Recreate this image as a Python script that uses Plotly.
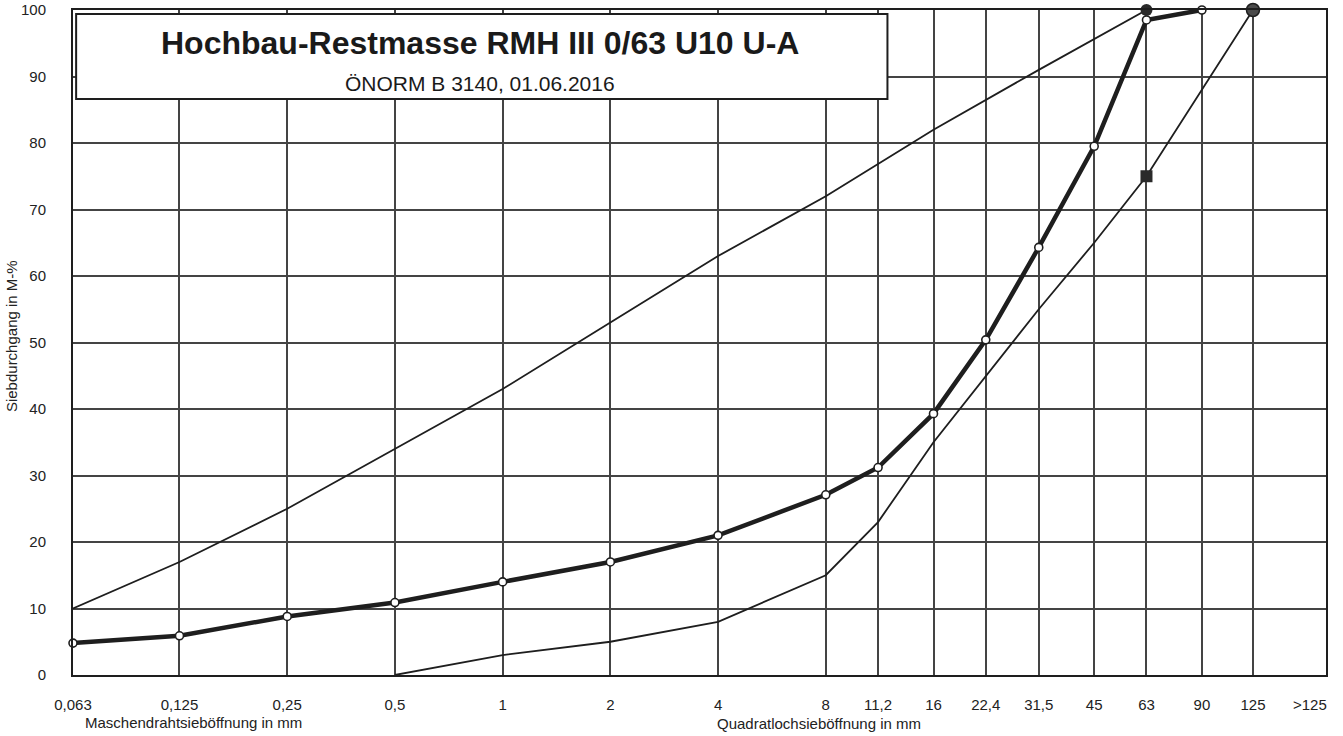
import math
import plotly.graph_objects as go

# ---- data ----
sieves = [0.063, 0.125, 0.25, 0.5, 1, 2, 4, 8, 11.2, 16, 22.4, 31.5, 45, 63, 90, 125]
sieve_labels = ["0,063", "0,125", "0,25", "0,5", "1", "2", "4", "8", "11,2", "16",
                "22,4", "31,5", "45", "63", "90", "125"]
extra_label = ">125"
extra_label_pos = 180

sample_x = [0.063, 0.125, 0.25, 0.5, 1, 2, 4, 8, 11.2, 16, 22.4, 31.5, 45, 63, 90]
sample_y = [4.8, 5.9, 8.8, 10.9, 14.0, 17.0, 21.0, 27.1, 31.2, 39.3, 50.4, 64.3, 79.5, 98.5, 100]

upper_x = [0.063, 0.125, 0.25, 0.5, 1, 2, 4, 8, 16, 31.5, 63]
upper_y = [10, 17, 25, 34, 43, 53, 63, 72, 82, 91, 100]

lower_x = [0.5, 1, 2, 4, 8, 11.2, 16, 22.4, 31.5, 45, 63, 125]
lower_y = [0, 3, 5, 8, 15, 23, 35, 45, 55, 65, 75, 100]

title_text = "Hochbau-Restmasse RMH III 0/63 U10 U-A"
subtitle_text = "ÖNORM B 3140, 01.06.2016"
ytitle = "Siebdurchgang in M-%"
xlabel_left = "Maschendrahtsieböffnung in mm"
xlabel_right = "Quadratlochsieböffnung in mm"
yticks = list(range(0, 101, 10))

FONT = "Liberation Sans, Arial, sans-serif"
INK = "#1e1e1e"

fig = go.Figure()

fig.add_trace(go.Scatter(x=upper_x, y=upper_y, mode="lines",
                         line=dict(color=INK, width=1.8), cliponaxis=False,
                         showlegend=False, hoverinfo="skip"))
fig.add_trace(go.Scatter(x=lower_x, y=lower_y, mode="lines",
                         line=dict(color=INK, width=1.8), cliponaxis=False,
                         showlegend=False, hoverinfo="skip"))
fig.add_trace(go.Scatter(x=sample_x, y=sample_y, mode="lines+markers",
                         line=dict(color=INK, width=4.5),
                         marker=dict(size=8, color="white", line=dict(color=INK, width=1.6)),
                         cliponaxis=False, showlegend=False, hoverinfo="skip"))
# end markers of the limit curves
fig.add_trace(go.Scatter(x=[upper_x[-1]], y=[upper_y[-1]], mode="markers",
                         marker=dict(size=12, color="#2a2a2a", symbol="circle"),
                         cliponaxis=False, showlegend=False, hoverinfo="skip"))
fig.add_trace(go.Scatter(x=[lower_x[-2]], y=[lower_y[-2]], mode="markers",
                         marker=dict(size=12, color="#2a2a2a", symbol="square"),
                         cliponaxis=False, showlegend=False, hoverinfo="skip"))
fig.add_trace(go.Scatter(x=[lower_x[-1]], y=[lower_y[-1]], mode="markers",
                         marker=dict(size=13, color="#4a4a4a", symbol="circle",
                                     line=dict(color=INK, width=1.5)),
                         cliponaxis=False, showlegend=False, hoverinfo="skip"))

fig.update_xaxes(type="log", range=[math.log10(0.063), math.log10(200)],
                 tickmode="array", tickvals=sieves, ticktext=sieve_labels,
                 showgrid=True, gridcolor="#444444", gridwidth=1.5,
                 showline=True, linecolor=INK, linewidth=2, mirror=True,
                 ticks="", ticklabelstandoff=15, automargin=False,
                 tickfont=dict(family=FONT, size=15, color="#222222"),
                 zeroline=False)
fig.update_yaxes(range=[0, 100], tickmode="array", tickvals=yticks,
                 showgrid=True, gridcolor="#444444", gridwidth=1.5,
                 showline=True, linecolor=INK, linewidth=2, mirror=True,
                 ticks="", ticklabelstandoff=22, automargin=False,
                 tickfont=dict(family=FONT, size=15, color="#222222"),
                 zeroline=False)

# title box
fig.add_shape(type="rect", xref="paper", yref="paper",
              x0=0.0025, x1=0.650, y0=0.866, y1=0.994,
              fillcolor="white", line=dict(color=INK, width=2), layer="above")

fig.add_annotation(text=f"<b>{title_text}</b>", xref="paper", yref="paper",
                   x=0.325, y=0.95, xanchor="center", yanchor="middle", showarrow=False,
                   font=dict(family=FONT, size=32, color="#1a1a1a"))
fig.add_annotation(text=subtitle_text, xref="paper", yref="paper",
                   x=0.325, y=0.889, xanchor="center", yanchor="middle", showarrow=False,
                   font=dict(family=FONT, size=21, color="#1a1a1a"))

# axis texts
fig.add_annotation(text=ytitle, xref="paper", yref="paper", x=-0.0485, y=0.51,
                   textangle=-90, xanchor="center", yanchor="middle", showarrow=False,
                   font=dict(family=FONT, size=15, color="#222222"))
fig.add_annotation(text=xlabel_left, xref="paper", yref="paper", x=0.096, y=-0.071,
                   xanchor="center", yanchor="middle", showarrow=False,
                   font=dict(family=FONT, size=15, color="#222222"))
fig.add_annotation(text=xlabel_right, xref="paper", yref="paper", x=0.595, y=-0.073,
                   xanchor="center", yanchor="middle", showarrow=False,
                   font=dict(family=FONT, size=15, color="#222222"))
fig.add_annotation(text=extra_label, xref="x", yref="paper", x=math.log10(extra_label_pos),
                   y=-0.044, xanchor="center", yanchor="middle", showarrow=False,
                   font=dict(family=FONT, size=15, color="#222222"))

fig.update_layout(width=1343, height=736,
                  margin=dict(l=73, r=17, t=10, b=61, autoexpand=False),
                  paper_bgcolor="white", plot_bgcolor="white",
                  showlegend=False)

fig.write_html("out.html", config={"displayModeBar": False},
               post_script="document.body.style.margin='0';")
